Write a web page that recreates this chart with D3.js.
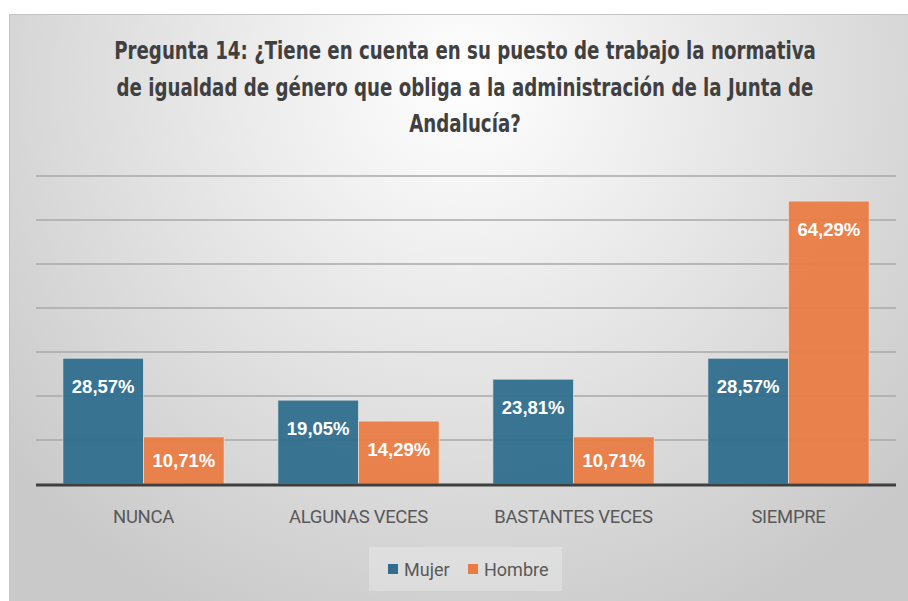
<!DOCTYPE html>
<html>
<head>
<meta charset="utf-8">
<script src="https://cdn.jsdelivr.net/npm/d3@7"></script>
<style>
  html, body { margin: 0; padding: 0; background: #fff; }
  svg { display: block; }
</style>
</head>
<body>
<div id="chart"></div>
<script>
// chart data
var categories = ["NUNCA", "ALGUNAS VECES", "BASTANTES VECES", "SIEMPRE"];
var seriesNames = ["Mujer", "Hombre"];
var mujerValues = [28.57, 19.05, 23.81, 28.57];
var hombreValues = [10.71, 14.29, 10.71, 64.29];
var gridTicks = [10, 20, 30, 40, 50, 60, 70];
var titleLines = [
  "Pregunta 14: ¿Tiene en cuenta en su puesto de trabajo la normativa",
  "de igualdad de género que obliga a la administración de la Junta de",
  "Andalucía?"
];

var seriesColors = ["#2f6e8e", "#e97c45"];
var width = 908, height = 601;

var svg = d3.select("#chart").append("svg")
  .attr("width", width)
  .attr("height", height);

// radial background like the office chart area
var defs = svg.append("defs");
var grad = defs.append("radialGradient")
  .attr("id", "bg-grad")
  .attr("gradientUnits", "userSpaceOnUse")
  .attr("cx", 465).attr("cy", 80).attr("r", 600);
grad.append("stop").attr("offset", "0").attr("stop-color", "#ffffff");
grad.append("stop").attr("offset", "0.35").attr("stop-color", "#ececec");
grad.append("stop").attr("offset", "1").attr("stop-color", "#c9c9c9");

svg.append("rect")
  .attr("x", 9.5).attr("y", 14.5)
  .attr("width", width).attr("height", height)
  .attr("fill", "url(#bg-grad)")
  .attr("stroke", "#c4c4c4")
  .attr("stroke-width", 1);

// title, squeezed horizontally to mimic the narrow font of the original
var titleGroup = svg.append("g")
  .attr("font-family", "'DejaVu Sans', sans-serif")
  .attr("font-weight", "bold")
  .attr("font-size", 24)
  .attr("fill", "#404040");
var titleTexts = titleLines.map(function(line) {
  return titleGroup.append("text")
    .attr("text-anchor", "middle")
    .text(line);
});
var squeeze = 702 / titleTexts[0].node().getComputedTextLength();
titleTexts.forEach(function(t, i) {
  t.attr("transform", "translate(465," + (59 + i * 36.5) + ") scale(" + squeeze + ",1)");
});

// scales
var x = d3.scaleBand()
  .domain(categories)
  .range([36, 896])
  .paddingInner(0.25)
  .paddingOuter(0.125);

var xInner = d3.scaleBand()
  .domain(seriesNames)
  .range([0, x.bandwidth()]);

var y = d3.scaleLinear()
  .domain([0, 70])
  .range([484, 176]);

// gridlines
svg.append("g")
  .selectAll("line")
  .data(gridTicks)
  .join("line")
  .attr("x1", 36).attr("x2", 896)
  .attr("y1", function(d) { return y(d); })
  .attr("y2", function(d) { return y(d); })
  .attr("stroke", "#a9a9a9")
  .attr("stroke-width", 1.5);

// bars
var rows = categories.map(function(c, i) {
  return { cat: c, values: [mujerValues[i], hombreValues[i]] };
});

var groups = svg.append("g")
  .selectAll("g")
  .data(rows)
  .join("g")
  .attr("transform", function(d) { return "translate(" + x(d.cat) + ",0)"; });

groups.each(function(d) {
  var g = d3.select(this);
  d.values.forEach(function(v, si) {
    var bx = xInner(seriesNames[si]);
    var top = y(v);
    var h = y(0) - top;
    g.append("rect")
      .attr("x", bx)
      .attr("y", top)
      .attr("width", xInner.bandwidth())
      .attr("height", h)
      .attr("fill", seriesColors[si])
      .attr("fill-opacity", 0.95)
      .attr("stroke", "#f4ece6")
      .attr("stroke-opacity", 0.6)
      .attr("stroke-width", 1);

    g.append("text")
      .attr("x", bx + xInner.bandwidth() / 2)
      .attr("y", top + Math.min(28, h / 2))
      .attr("dy", "0.36em")
      .attr("text-anchor", "middle")
      .attr("font-family", "'Liberation Sans', Arial, sans-serif")
      .attr("font-weight", "bold")
      .attr("font-size", 18.5)
      .attr("fill", "#ffffff")
      .text(v.toFixed(2).replace(".", ",") + "%");
  });
});

// baseline
svg.append("line")
  .attr("x1", 36).attr("x2", 896)
  .attr("y1", y(0) + 1).attr("y2", y(0) + 1)
  .attr("stroke", "#3f3f3f")
  .attr("stroke-width", 3);

// category axis
var xAxis = svg.append("g")
  .attr("transform", "translate(0," + (y(0) + 2) + ")")
  .call(d3.axisBottom(x).tickSize(0).tickPadding(24));
xAxis.select(".domain").remove();
xAxis.selectAll("text")
  .attr("font-family", "Roboto, sans-serif")
  .attr("font-size", 18.5)
  .attr("letter-spacing", -0.3)
  .attr("fill", "#595959");

// legend
var legend = svg.append("g");
legend.append("rect")
  .attr("x", 369).attr("y", 547)
  .attr("width", 193).attr("height", 44)
  .attr("fill", "#ffffff")
  .attr("fill-opacity", 0.25);

var legendItems = [
  { name: seriesNames[0], x: 388 },
  { name: seriesNames[1], x: 468 }
];
legendItems.forEach(function(item, i) {
  legend.append("rect")
    .attr("x", item.x).attr("y", 564)
    .attr("width", 10).attr("height", 10)
    .attr("fill", seriesColors[i]);
  legend.append("text")
    .attr("x", item.x + 16)
    .attr("y", 570)
    .attr("dy", "0.35em")
    .attr("font-family", "Roboto, sans-serif")
    .attr("font-size", 18)
    .attr("fill", "#595959")
    .text(item.name);
});
</script>
</body>
</html>
